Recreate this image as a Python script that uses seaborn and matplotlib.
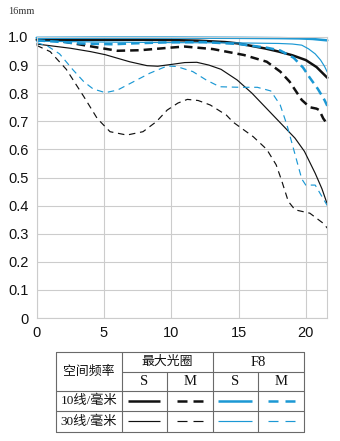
import numpy as np
import pandas as pd
import matplotlib
matplotlib.use("Agg")
import matplotlib.pyplot as plt
import seaborn as sns

# MTF curves, 16mm: image height (mm) vs contrast
s10_max_x = [0, 2, 5, 8, 10, 12, 14, 15, 16, 17, 18, 19, 20, 20.8, 21.6]
s10_max_y = [0.99, 0.99, 0.99, 0.99, 0.989, 0.987, 0.982, 0.977, 0.968, 0.959, 0.948, 0.935, 0.918, 0.893, 0.855]

m10_max_x = [0, 1.2, 2.4, 3.5, 4.6, 6, 7.7, 9.9, 11, 13.1, 15.4, 17.1, 18.1, 18.8, 19.7, 20.3, 20.8, 21.0, 21.3, 21.6]
m10_max_y = [0.995, 0.992, 0.98, 0.971, 0.962, 0.951, 0.953, 0.962, 0.966, 0.957, 0.936, 0.912, 0.877, 0.841, 0.776, 0.75, 0.745, 0.74, 0.71, 0.69]

s30_max_x = [0, 1, 2.5, 4, 5.1, 6.9, 8.2, 9, 10.1, 11, 11.9, 12.8, 13.7, 14.9, 16, 16.6, 17.8, 18.6, 19.2, 19.9, 20.7, 21.2, 21.6]
s30_max_y = [0.975, 0.969, 0.96, 0.948, 0.937, 0.912, 0.898, 0.896, 0.903, 0.909, 0.91, 0.9, 0.885, 0.847, 0.8, 0.77, 0.71, 0.67, 0.64, 0.593, 0.515, 0.46, 0.405]

m30_max_x = [0, 1.0, 2.2, 3.5, 4.5, 5.45, 6.7, 7.9, 8.9, 9.7, 10.5, 11.2, 12.0, 12.9, 14.1, 14.6, 16.1, 17.1, 17.8, 18.2, 18.7, 19.2, 20.3, 21.3, 21.6]
m30_max_y = [0.97, 0.948, 0.885, 0.788, 0.71, 0.663, 0.651, 0.663, 0.699, 0.74, 0.765, 0.778, 0.774, 0.758, 0.722, 0.697, 0.645, 0.6, 0.545, 0.49, 0.415, 0.385, 0.373, 0.337, 0.32]

s10_f8_x = [0, 5, 10, 15, 18, 19.5, 20.5, 21.6]
s10_f8_y = [0.997, 0.998, 0.998, 0.997, 0.996, 0.995, 0.993, 0.988]

m10_f8_x = [0, 2.2, 3.2, 5.7, 7, 9.7, 12.4, 15, 17.1, 18.1, 19.1, 19.8, 20.3, 20.9, 21.4, 21.6]
m10_f8_y = [0.988, 0.981, 0.977, 0.974, 0.977, 0.981, 0.982, 0.975, 0.962, 0.952, 0.926, 0.891, 0.855, 0.815, 0.775, 0.755]

s30_f8_x = [0, 5, 10, 15, 18, 19, 19.7, 20.2, 20.7, 21.1, 21.4, 21.6]
s30_f8_y = [0.985, 0.982, 0.98, 0.979, 0.977, 0.975, 0.971, 0.958, 0.94, 0.918, 0.895, 0.875]

m30_f8_x = [0, 0.8, 1.7, 2.7, 3.5, 4.2, 5.1, 6.0, 7.2, 8.4, 9.7, 10.4, 11.6, 12.6, 13.6, 15.1, 16.4, 17.4, 18.1, 18.6, 19.1, 19.7, 20.0, 20.7, 21.6]
m30_f8_y = [0.98, 0.968, 0.94, 0.883, 0.841, 0.815, 0.802, 0.811, 0.841, 0.871, 0.897, 0.895, 0.877, 0.847, 0.823, 0.821, 0.821, 0.808, 0.758, 0.687, 0.6, 0.495, 0.473, 0.473, 0.40]

x_ticks = [0, 5, 10, 15, 20]
y_ticks = [0, 0.1, 0.2, 0.3, 0.4, 0.5, 0.6, 0.7, 0.8, 0.9, 1.0]
y_tick_labels = ["0", "0.1", "0.2", "0.3", "0.4", "0.5", "0.6", "0.7", "0.8", "0.9", "1.0"]

title_text = "16mm"
col_freq = "空间频率"
col_open = "最大光圈"
col_f8 = "F8"
row_10 = "10线/毫米"
row_30 = "30线/毫米"

BLACK = "#111111"
BLUE = "#1b98d4"
GRID = "#cccccc"
TABLE = "#6a6a6a"

sns.set_style("white")
plt.rcParams["font.family"] = ["Liberation Sans", "DejaVu Sans"]

W, H = 340, 441
fig = plt.figure(figsize=(W / 100, H / 100), dpi=100)
ax = fig.add_axes([36.7 / W, 1 - 318 / H, (327.3 - 36.7) / W, (318 - 37) / H])

thick, thin = 1.8, 0.85
curves = [
    (s10_max_x, s10_max_y, BLACK, thick, "-"),
    (m10_max_x, m10_max_y, BLACK, thick, (0, (3.4, 2.0))),
    (s30_max_x, s30_max_y, BLACK, thin, "-"),
    (m30_max_x, m30_max_y, BLACK, thin, (0, (5.5, 4.0))),
    (s30_f8_x, s30_f8_y, BLUE, thin, "-"),
    (m30_f8_x, m30_f8_y, BLUE, thin, (0, (5.5, 4.0))),
    (m10_f8_x, m10_f8_y, BLUE, thick, (0, (3.4, 2.0))),
    (s10_f8_x, s10_f8_y, BLUE, thick, "-"),
]
for xs, ys, col, lw, ls in curves:
    df = pd.DataFrame({"x": xs, "y": ys})
    sns.lineplot(data=df, x="x", y="y", ax=ax, color=col, linewidth=lw,
                 linestyle=ls, sort=False, estimator=None, clip_on=False)

ax.set_xlim(0, 21.6)
ax.set_ylim(0, 1.0)
ax.set_xticks(x_ticks)
ax.set_yticks(y_ticks)
ax.set_yticklabels(y_tick_labels)
ax.set_xlabel("")
ax.set_ylabel("")
ax.grid(True, color=GRID, linewidth=0.8)
ax.set_axisbelow(True)
for sp in ax.spines.values():
    sp.set_color(GRID)
    sp.set_linewidth(0.8)
ax.tick_params(length=0, labelsize=10.5, colors="#111111")
ax.tick_params(axis="y", pad=6)
ax.tick_params(axis="x", pad=6)

# overlay in pixel coordinates for title and legend table
ov = fig.add_axes([0, 0, 1, 1])
ov.set_xlim(0, W)
ov.set_ylim(H, 0)
ov.axis("off")
ov.patch.set_alpha(0)

serif = ["Liberation Serif", "Noto Sans CJK SC", "DejaVu Sans"]
ov.text(8, 11.5, title_text, fontsize=7.5, family=serif, color="#333333",
        ha="left", va="center")

L, R, T, B = 56, 304, 352.3, 431.7
c1, c2, cs1, cs2 = 121.7, 212.7, 167.3, 258.3
r1, r2, r3 = 371.7, 391, 411
lkw = dict(color=TABLE, linewidth=0.8)
for yy in (T, r2, r3, B):
    ov.plot([L, R], [yy, yy], **lkw)
ov.plot([c1, R], [r1, r1], **lkw)
for xx in (L, c1, c2, R):
    ov.plot([xx, xx], [T, B], **lkw)
for xx in (cs1, cs2):
    ov.plot([xx, xx], [r1, B], **lkw)

tkw = dict(family=serif, color="#111111", ha="center", va="center")
ov.text((L + c1) / 2, r1, col_freq, fontsize=9.3, **tkw)
ov.text((c1 + c2) / 2, (T + r1) / 2, col_open, fontsize=9.3, **tkw)
ov.text((c2 + R) / 2, (T + r1) / 2, col_f8, fontsize=10.5, **tkw)
for cx0, cx1 in ((c1, cs1), (c2, cs2)):
    ov.text((cx0 + cx1) / 2, (r1 + r2) / 2, "S", fontsize=10.5, **tkw)
for cx0, cx1 in ((cs1, c2), (cs2, R)):
    ov.text((cx0 + cx1) / 2, (r1 + r2) / 2, "M", fontsize=10.5, **tkw)
ov.text((L + c1) / 2, (r2 + r3) / 2, row_10, fontsize=9.5, **tkw)
ov.text((L + c1) / 2, (r3 + B) / 2, row_30, fontsize=9.5, **tkw)

for yy, lw in (((r2 + r3) / 2, thick), ((r3 + B) / 2, thin)):
    ov.plot([128, 160], [yy, yy], color=BLACK, linewidth=lw, solid_capstyle="butt")
    ov.plot([176.7, 186.7], [yy, yy], color=BLACK, linewidth=lw, solid_capstyle="butt")
    ov.plot([193.3, 203.3], [yy, yy], color=BLACK, linewidth=lw, solid_capstyle="butt")
    ov.plot([218, 252], [yy, yy], color=BLUE, linewidth=lw, solid_capstyle="butt")
    ov.plot([268.3, 278.3], [yy, yy], color=BLUE, linewidth=lw, solid_capstyle="butt")
    ov.plot([285, 295], [yy, yy], color=BLUE, linewidth=lw, solid_capstyle="butt")

fig.savefig("out.png", dpi=100)
